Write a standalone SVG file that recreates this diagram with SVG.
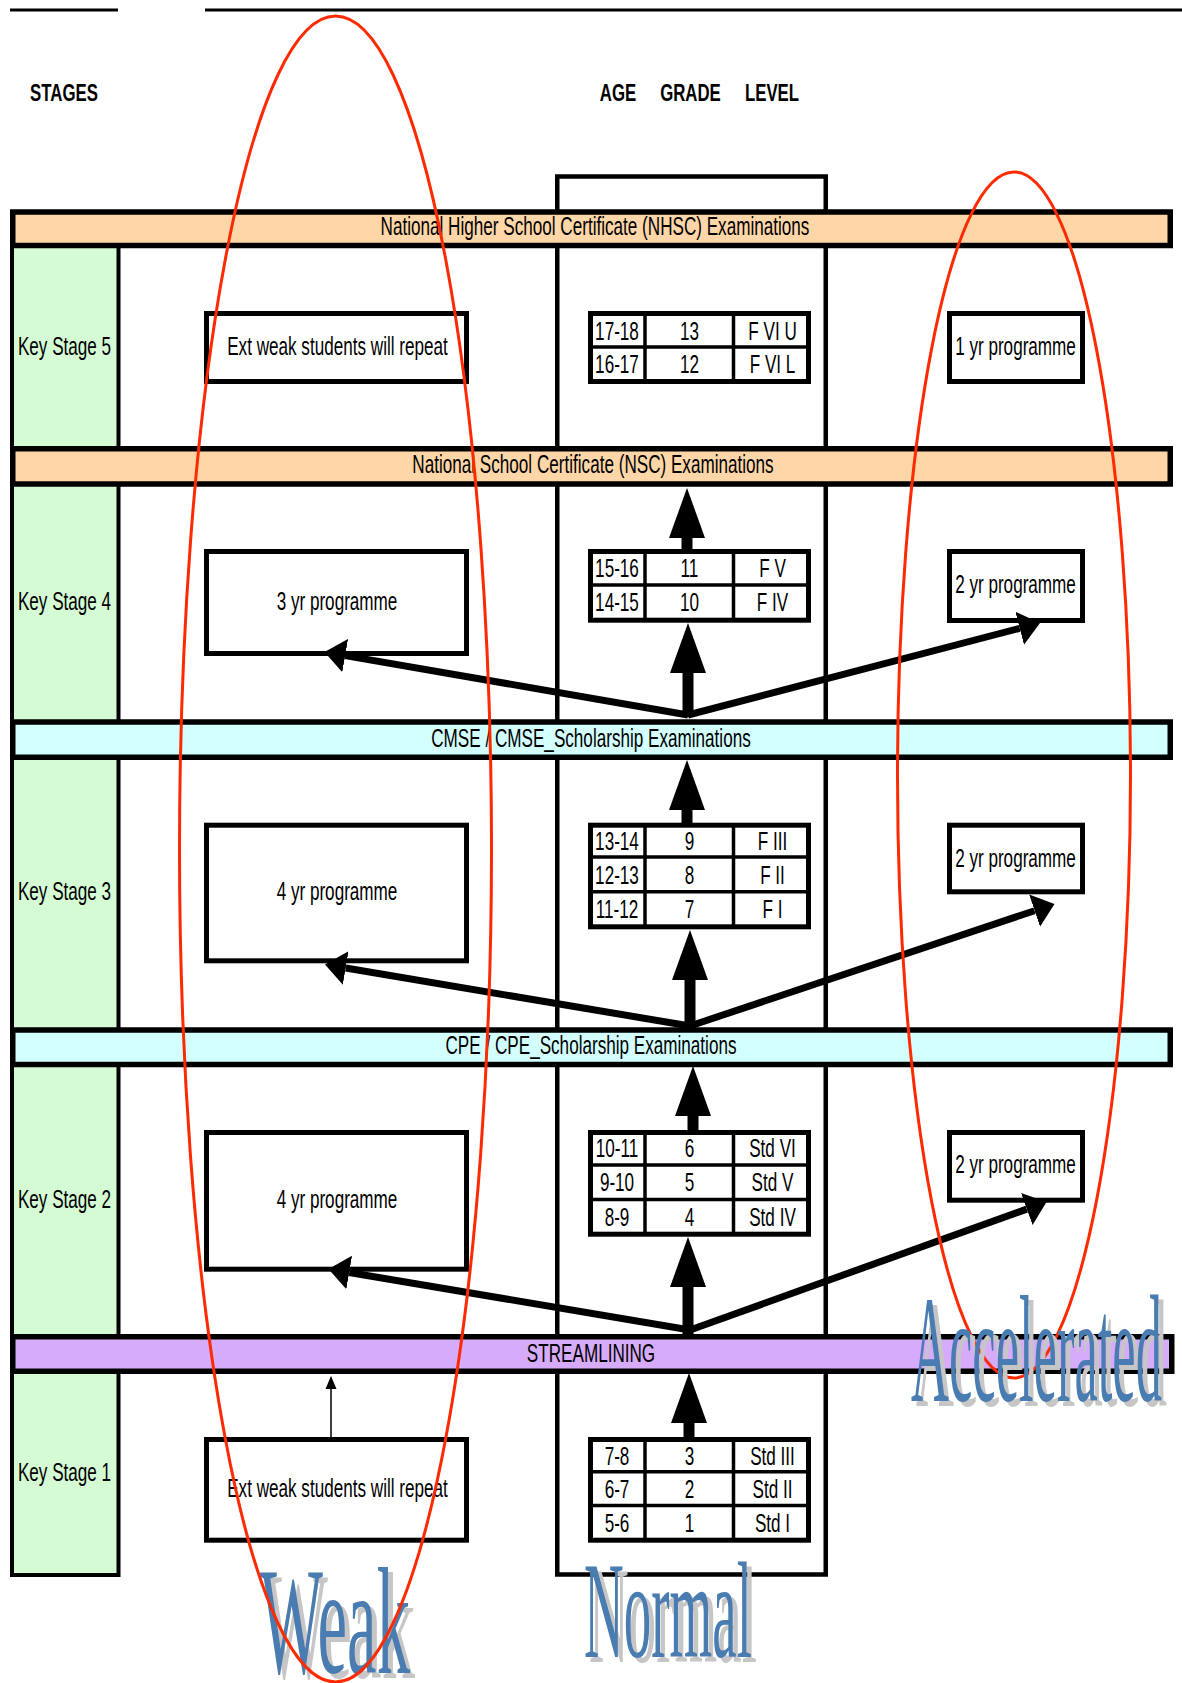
<svg xmlns="http://www.w3.org/2000/svg" width="1182" height="1683" viewBox="0 0 1182 1683">
<style>
.t{font-family:"Liberation Sans",Arial,sans-serif;font-size:25px;fill:#000;text-anchor:middle}
.h{font-family:"Liberation Sans",Arial,sans-serif;font-size:24px;font-weight:bold;fill:#000;text-anchor:middle}
.box{fill:#fff;stroke:#000;stroke-width:5}
.grid{stroke:#000;stroke-width:3.5}
.bar{stroke:#000;stroke-width:5.5}
.exam{fill:#ffd6a8}
.cm{fill:#d4ffff}
.st{fill:#d6abfa}
.big{font-family:"Liberation Serif","Times New Roman",serif;fill:#4a7bb0;filter:url(#shadow)}
.ell{fill:none;stroke:#ff2a00;stroke-width:3}
.thick{stroke:#000;stroke-width:11;fill:none}
.diag{stroke:#000;stroke-width:7;fill:none}
.thin{stroke:#000;stroke-width:1.5;fill:none}
</style>
<defs>
<filter id="shadow" x="-10%" y="-10%" width="130%" height="130%">
<feOffset in="SourceAlpha" dx="5" dy="5" result="o"/>
<feFlood flood-color="#c6c6c6" result="f"/>
<feComposite in="f" in2="o" operator="in" result="s"/>
<feMerge><feMergeNode in="s"/><feMergeNode in="SourceGraphic"/></feMerge>
</filter>
<marker id="vhead" markerUnits="userSpaceOnUse" viewBox="0 -20 52 40" markerWidth="52" markerHeight="40" refX="0" refY="0" orient="auto"><path d="M0,-18 L50,0 L0,18 Z" fill="#000"/></marker>
<marker id="dhead" markerUnits="userSpaceOnUse" viewBox="0 -18 24 36" markerWidth="24" markerHeight="36" refX="0" refY="0" orient="auto"><path d="M0,-17 L21,0 L0,17 Z" fill="#000"/></marker>
<marker id="shead" markerUnits="userSpaceOnUse" viewBox="0 -7 14 14" markerWidth="14" markerHeight="14" refX="0" refY="0" orient="auto"><path d="M0,-5.5 L13,0 L0,5.5 Z" fill="#000"/></marker>
</defs>
<rect x="0" y="0" width="1182" height="1683" fill="#fff"/>
<g id="top-rules">
<line x1="10" y1="10" x2="118" y2="10" stroke="#000" stroke-width="3"/>
<line x1="205" y1="10" x2="1182" y2="10" stroke="#000" stroke-width="3"/>
</g>
<g id="headers">
<text class="h" transform="translate(64 101) scale(.7 1)">STAGES</text>
<text class="h" transform="translate(618 101) scale(.7 1)">AGE</text>
<text class="h" transform="translate(690.5 101) scale(.7 1)">GRADE</text>
<text class="h" transform="translate(772 101) scale(.7 1)">LEVEL</text>
</g>
<g id="normal-column"><rect x="557.25" y="176.5" width="268.5" height="1398" fill="#fff" stroke="#000" stroke-width="4.5"/></g>
<g id="stages-column"><rect x="12" y="240" width="106.5" height="1335" fill="#d4fbd4" stroke="#000" stroke-width="4"/></g>

<g id="bar-nhsc"><rect class="bar exam" x="12.75" y="212" width="1157.5" height="33.5"/>
<text class="t" transform="translate(595 235) scale(.685 1)">National Higher School Certificate (NHSC) Examinations</text></g>
<g id="bar-nsc"><rect class="bar exam" x="12.75" y="448.75" width="1157.5" height="35.25"/>
<text class="t" transform="translate(593 473.3) scale(.685 1)">National School Certificate (NSC) Examinations</text></g>
<g id="bar-cmse"><rect class="bar cm" x="12.75" y="722" width="1157.5" height="35.25"/>
<text class="t" transform="translate(591 746.7) scale(.685 1)">CMSE / CMSE_Scholarship Examinations</text></g>
<g id="bar-cpe"><rect class="bar cm" x="12.75" y="1030" width="1157.5" height="34.5"/>
<text class="t" transform="translate(591 1054) scale(.685 1)">CPE / CPE_Scholarship Examinations</text></g>
<g id="bar-streamlining"><rect class="bar st" x="12.75" y="1336.75" width="1159" height="34.5"/>
<text class="t" transform="translate(591 1361.7) scale(.685 1)">STREAMLINING</text></g>

<g id="ks5-label"><text class="t" transform="translate(64.5 355) scale(.685 1)">Key Stage 5</text></g>
<g id="ks4-label"><text class="t" transform="translate(64.5 610) scale(.685 1)">Key Stage 4</text></g>
<g id="ks3-label"><text class="t" transform="translate(64.5 900) scale(.685 1)">Key Stage 3</text></g>
<g id="ks2-label"><text class="t" transform="translate(64.5 1208) scale(.685 1)">Key Stage 2</text></g>
<g id="ks1-label"><text class="t" transform="translate(64.5 1481) scale(.685 1)">Key Stage 1</text></g>

<g id="weak-ks5"><rect class="box" x="206.5" y="313.5" width="260" height="68"/>
<text class="t" transform="translate(337.5 355) scale(.685 1)">Ext weak students will repeat</text></g>
<g id="weak-ks4"><rect class="box" x="206.5" y="551.5" width="260" height="102"/>
<text class="t" transform="translate(337 610) scale(.685 1)">3 yr programme</text></g>
<g id="weak-ks3"><rect class="box" x="206.5" y="825.2" width="260" height="135.6"/>
<text class="t" transform="translate(337 900) scale(.685 1)">4 yr programme</text></g>
<g id="weak-ks2"><rect class="box" x="206.5" y="1132.5" width="260" height="136.7"/>
<text class="t" transform="translate(337 1208.3) scale(.685 1)">4 yr programme</text></g>
<g id="weak-ks1"><rect class="box" x="206.5" y="1439.5" width="260" height="100.7"/>
<text class="t" transform="translate(337.5 1496.7) scale(.685 1)">Ext weak students will repeat</text></g>

<g id="acc-ks5"><rect class="box" x="949.5" y="313.5" width="133" height="68"/>
<text class="t" transform="translate(1015.5 355) scale(.685 1)">1 yr programme</text></g>
<g id="acc-ks4"><rect class="box" x="949.5" y="551.5" width="133" height="69"/>
<text class="t" transform="translate(1015.5 593.3) scale(.685 1)">2 yr programme</text></g>
<g id="acc-ks3"><rect class="box" x="949.5" y="825.2" width="133" height="66.6"/>
<text class="t" transform="translate(1015.5 866.7) scale(.685 1)">2 yr programme</text></g>
<g id="acc-ks2"><rect class="box" x="949.5" y="1132.5" width="133" height="67.7"/>
<text class="t" transform="translate(1015.5 1173.3) scale(.685 1)">2 yr programme</text></g>

<g id="table-ks5"><rect class="box" x="590.5" y="313.5" width="218" height="68"/>
<line class="grid" x1="590.5" y1="347" x2="808.5" y2="347"/>
<line class="grid" x1="645" y1="313.5" x2="645" y2="381.5"/><line class="grid" x1="733.5" y1="313.5" x2="733.5" y2="381.5"/>
<text class="t" transform="translate(617 339.5) scale(.685 1)">17-18</text><text class="t" transform="translate(689.5 339.5) scale(.685 1)">13</text><text class="t" transform="translate(772.5 339.5) scale(.685 1)">F VI U</text>
<text class="t" transform="translate(617 373) scale(.685 1)">16-17</text><text class="t" transform="translate(689.5 373) scale(.685 1)">12</text><text class="t" transform="translate(772.5 373) scale(.685 1)">F VI L</text></g>

<g id="table-ks4"><rect class="box" x="590.5" y="551.5" width="218" height="68.7"/>
<line class="grid" x1="590.5" y1="585" x2="808.5" y2="585"/>
<line class="grid" x1="645" y1="551.5" x2="645" y2="620.2"/><line class="grid" x1="733.5" y1="551.5" x2="733.5" y2="620.2"/>
<text class="t" transform="translate(617 577) scale(.685 1)">15-16</text><text class="t" transform="translate(689.5 577) scale(.685 1)">11</text><text class="t" transform="translate(772.5 577) scale(.685 1)">F V</text>
<text class="t" transform="translate(617 611) scale(.685 1)">14-15</text><text class="t" transform="translate(689.5 611) scale(.685 1)">10</text><text class="t" transform="translate(772.5 611) scale(.685 1)">F IV</text></g>

<g id="table-ks3"><rect class="box" x="590.5" y="825.2" width="218" height="101.6"/>
<line class="grid" x1="590.5" y1="857" x2="808.5" y2="857"/><line class="grid" x1="590.5" y1="891.7" x2="808.5" y2="891.7"/>
<line class="grid" x1="645" y1="825.2" x2="645" y2="926.8"/><line class="grid" x1="733.5" y1="825.2" x2="733.5" y2="926.8"/>
<text class="t" transform="translate(617 850) scale(.685 1)">13-14</text><text class="t" transform="translate(689.5 850) scale(.685 1)">9</text><text class="t" transform="translate(772.5 850) scale(.685 1)">F III</text>
<text class="t" transform="translate(617 884) scale(.685 1)">12-13</text><text class="t" transform="translate(689.5 884) scale(.685 1)">8</text><text class="t" transform="translate(772.5 884) scale(.685 1)">F II</text>
<text class="t" transform="translate(617 918.3) scale(.685 1)">11-12</text><text class="t" transform="translate(689.5 918.3) scale(.685 1)">7</text><text class="t" transform="translate(772.5 918.3) scale(.685 1)">F I</text></g>

<g id="table-ks2"><rect class="box" x="590.5" y="1132.5" width="218" height="101.7"/>
<line class="grid" x1="590.5" y1="1165" x2="808.5" y2="1165"/><line class="grid" x1="590.5" y1="1199.5" x2="808.5" y2="1199.5"/>
<line class="grid" x1="645" y1="1132.5" x2="645" y2="1234.2"/><line class="grid" x1="733.5" y1="1132.5" x2="733.5" y2="1234.2"/>
<text class="t" transform="translate(617 1157.3) scale(.685 1)">10-11</text><text class="t" transform="translate(689.5 1157.3) scale(.685 1)">6</text><text class="t" transform="translate(772.5 1157.3) scale(.685 1)">Std VI</text>
<text class="t" transform="translate(617 1191) scale(.685 1)">9-10</text><text class="t" transform="translate(689.5 1191) scale(.685 1)">5</text><text class="t" transform="translate(772.5 1191) scale(.685 1)">Std V</text>
<text class="t" transform="translate(617 1226) scale(.685 1)">8-9</text><text class="t" transform="translate(689.5 1226) scale(.685 1)">4</text><text class="t" transform="translate(772.5 1226) scale(.685 1)">Std IV</text></g>

<g id="table-ks1"><rect class="box" x="590.5" y="1439.5" width="218" height="100.7"/>
<line class="grid" x1="590.5" y1="1471.7" x2="808.5" y2="1471.7"/><line class="grid" x1="590.5" y1="1505.5" x2="808.5" y2="1505.5"/>
<line class="grid" x1="645" y1="1439.5" x2="645" y2="1540.2"/><line class="grid" x1="733.5" y1="1439.5" x2="733.5" y2="1540.2"/>
<text class="t" transform="translate(617 1465) scale(.685 1)">7-8</text><text class="t" transform="translate(689.5 1465) scale(.685 1)">3</text><text class="t" transform="translate(772.5 1465) scale(.685 1)">Std III</text>
<text class="t" transform="translate(617 1498.3) scale(.685 1)">6-7</text><text class="t" transform="translate(689.5 1498.3) scale(.685 1)">2</text><text class="t" transform="translate(772.5 1498.3) scale(.685 1)">Std II</text>
<text class="t" transform="translate(617 1531.7) scale(.685 1)">5-6</text><text class="t" transform="translate(689.5 1531.7) scale(.685 1)">1</text><text class="t" transform="translate(772.5 1531.7) scale(.685 1)">Std I</text></g>

<g id="connectors">
<line class="thick" x1="687" y1="549" x2="687" y2="538" marker-end="url(#vhead)"/>
<line class="thick" x1="688" y1="717" x2="688" y2="673" marker-end="url(#vhead)"/>
<line class="diag" x1="688" y1="715" x2="345.2" y2="655.6" marker-end="url(#dhead)"/>
<line class="diag" x1="688" y1="715" x2="1019.7" y2="628.3" marker-end="url(#dhead)"/>
<line class="thick" x1="687" y1="823" x2="687" y2="810" marker-end="url(#vhead)"/>
<line class="thick" x1="690" y1="1029" x2="690" y2="980" marker-end="url(#vhead)"/>
<line class="diag" x1="690" y1="1026" x2="345.7" y2="968" marker-end="url(#dhead)"/>
<line class="diag" x1="690" y1="1026" x2="1034.6" y2="910.7" marker-end="url(#dhead)"/>
<line class="thick" x1="693" y1="1130" x2="693" y2="1116" marker-end="url(#vhead)"/>
<line class="thick" x1="688" y1="1334" x2="688" y2="1287" marker-end="url(#vhead)"/>
<line class="diag" x1="690" y1="1330" x2="349.2" y2="1272.5" marker-end="url(#dhead)"/>
<line class="diag" x1="690" y1="1330" x2="1026.8" y2="1209.1" marker-end="url(#dhead)"/>
<line class="thick" x1="689" y1="1437" x2="689" y2="1423" marker-end="url(#vhead)"/>
<line class="thin" x1="331" y1="1437" x2="331" y2="1389" marker-end="url(#shead)"/>
</g>

<g id="accelerated-ring"><ellipse class="ell" cx="1014" cy="775" rx="116.5" ry="603"/></g>

<g id="label-weak">
<text class="big" x="260" y="1673" font-size="153" textLength="150" lengthAdjust="spacingAndGlyphs">Weak</text>
</g>
<g id="label-normal">
<text class="big" x="584" y="1657" font-size="137" textLength="168" lengthAdjust="spacingAndGlyphs">Normal</text>
</g>
<g id="label-accelerated">
<text class="big" x="911" y="1401" font-size="152" textLength="251" lengthAdjust="spacingAndGlyphs">Accelerated</text>
</g>

<g id="weak-ring"><ellipse class="ell" cx="335.5" cy="849" rx="156" ry="833"/></g>
</svg>
